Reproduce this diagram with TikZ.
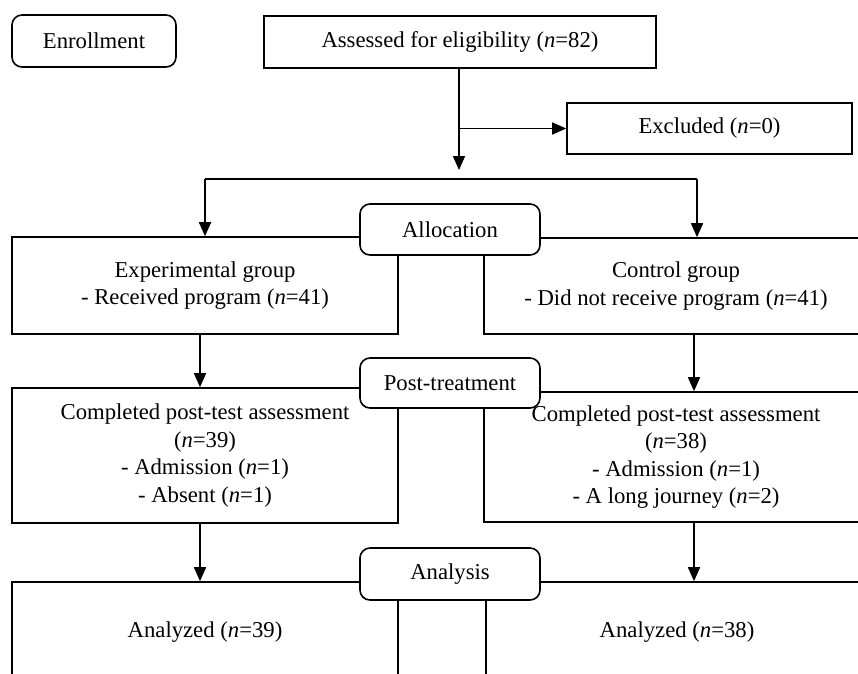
\documentclass[tikz,border=0pt]{standalone}
\usepackage{fontspec}
\setmainfont{Liberation Serif}
\usetikzlibrary{arrows.meta}
\newcommand{\fsz}{\fontsize{22.7}{27.5}\selectfont}
\tikzset{
  box/.style={draw, line width=1.6pt, align=center, inner sep=0pt, font=\fsz},
  stage/.style={box, rounded corners=10pt, fill=white},
  arr/.style={line width=1.6pt, -{Triangle[length=14pt,width=12pt]}},
  ln/.style={line width=1.6pt}
}
\begin{document}
\begin{tikzpicture}[x=1pt,y=-1pt]
\path[use as bounding box, clip] (0,0) rectangle (858,673);
\fill[white] (0,0) rectangle (858,673);
% stage label
\node[stage, minimum width=164pt, minimum height=52pt] (enroll) at (94,41) {Enrollment};
% main boxes
\node[box, minimum width=392pt, minimum height=52pt] (assess) at (460,42) {Assessed for eligibility (\textit{n}=82)};
\node[box, minimum width=285pt, minimum height=51pt] (excl) at (709.5,128.5) {Excluded (\textit{n}=0)};
\node[box, minimum width=386pt, minimum height=97pt] (exp) at (205,285.5) {Experimental group\\- Received program (\textit{n}=41)};
\node[box, minimum width=384pt, minimum height=96pt] (ctrl) at (676,286) {Control group\\- Did not receive program (\textit{n}=41)};
\node[box, minimum width=386pt, minimum height=135pt] (compL) at (205,455.5) {Completed post-test assessment\\(\textit{n}=39)\\- Admission (\textit{n}=1)\\- Absent (\textit{n}=1)};
\node[box, minimum width=384pt, minimum height=130pt] (compR) at (676,457) {Completed post-test assessment\\(\textit{n}=38)\\- Admission (\textit{n}=1)\\- A long journey (\textit{n}=2)};
\node[box, minimum width=386pt, minimum height=100pt] (anL) at (205,632) {Analyzed (\textit{n}=39)};
\node[box, minimum width=382pt, minimum height=100pt] (anR) at (677,632) {Analyzed (\textit{n}=38)};
% connectors
\coordinate (down) at (459,170);
\coordinate (ex) at (459,128.5);
\coordinate (bl) at (205,179);
\coordinate (br) at (697,179);
\draw[arr] (assess.south -| down) -- (down);
\draw[arr] (ex) -- (excl.west);
\draw[ln] (bl) -- (br);
\draw[arr] (bl) -- (bl |- exp.north);
\draw[arr] (br) -- (br |- ctrl.north);
\coordinate (cl1) at (200,0);
\coordinate (cr1) at (694,0);
\draw[arr] (exp.south -| cl1) -- (compL.north -| cl1);
\draw[arr] (ctrl.south -| cr1) -- (compR.north -| cr1);
\draw[arr] (compL.south -| cl1) -- (anL.north -| cl1);
\draw[arr] (compR.south -| cr1) -- (anR.north -| cr1);
% stage labels on top
\node[stage, minimum width=180pt, minimum height=51pt] (alloc) at (450,229.5) {Allocation};
\node[stage, minimum width=180pt, minimum height=50pt] (post) at (450,383) {Post-treatment};
\node[stage, minimum width=180pt, minimum height=52pt] (analysis) at (450,574) {Analysis};
\end{tikzpicture}
\end{document}
